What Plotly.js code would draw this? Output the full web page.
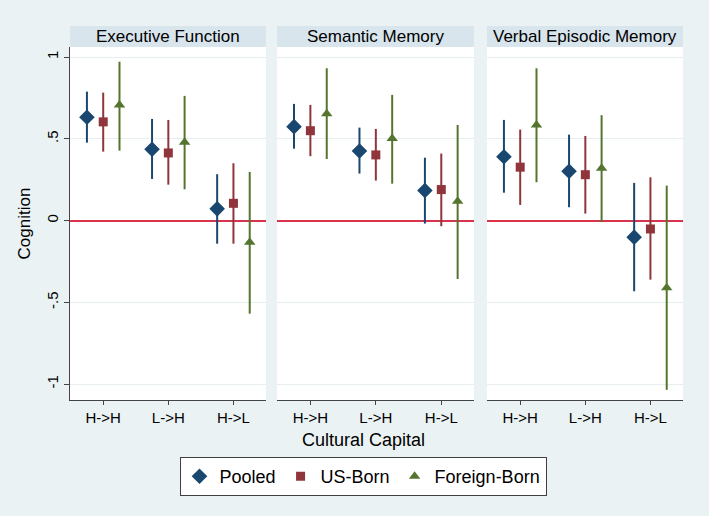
<!DOCTYPE html>
<html>
<head>
<meta charset="utf-8">
<script src="https://cdn.plot.ly/plotly-3.0.1.min.js"></script>
<style>html,body{margin:0;padding:0;background:#eaf2f3;}#chart{width:709px;height:516px;}</style>
</head>
<body>
<div id="chart"></div>
<script>
var panels = ["Executive Function", "Semantic Memory", "Verbal Episodic Memory"];
var categories = ["H->H", "L->H", "H->L"];
var seriesNames = ["Pooled", "US-Born", "Foreign-Born"];
var yTickVals = [-1, -0.5, 0, 0.5, 1];
var yTickText = ["-1", "-.5", "0", ".5", "1"];

// Estimates per panel [EF, SM, VEM], each over categories
var pooledEst = [[0.632, 0.437, 0.072], [0.575, 0.426, 0.184], [0.391, 0.302, -0.101]];
var pooledLo  = [[0.477, 0.255, -0.141], [0.440, 0.288, -0.018], [0.171, 0.082, -0.432]];
var pooledHi  = [[0.789, 0.622, 0.284], [0.714, 0.569, 0.385], [0.616, 0.526, 0.231]];

var usEst = [[0.604, 0.414, 0.106], [0.550, 0.402, 0.190], [0.327, 0.281, -0.051]];
var usLo  = [[0.422, 0.220, -0.141], [0.394, 0.245, -0.034], [0.096, 0.043, -0.361]];
var usHi  = [[0.783, 0.616, 0.351], [0.708, 0.561, 0.410], [0.557, 0.518, 0.265]];

var fbEst = [[0.708, 0.479, -0.132], [0.653, 0.502, 0.119], [0.585, 0.320, -0.410]];
var fbLo  = [[0.428, 0.192, -0.569], [0.377, 0.226, -0.357], [0.235, -0.008, -1.035]];
var fbHi  = [[0.972, 0.763, 0.298], [0.932, 0.769, 0.585], [0.932, 0.645, 0.214]];

var series = [
  {name: seriesNames[0], est: pooledEst, lo: pooledLo, hi: pooledHi, color: "#1a476f", symbol: "diamond", size: 12, offset: -0.25},
  {name: seriesNames[1], est: usEst, lo: usLo, hi: usHi, color: "#90353b", symbol: "square", size: 9, offset: 0},
  {name: seriesNames[2], est: fbEst, lo: fbLo, hi: fbHi, color: "#55752f", symbol: "triangle-up", size: 10, offset: 0.25}
];

var traces = [];
for (var p = 0; p < panels.length; p++) {
  var ax = p === 0 ? "" : String(p + 1);
  series.forEach(function (s) {
    var xs = categories.map(function (c, i) { return i + 1 + s.offset; });
    var est = s.est[p];
    traces.push({
      type: "scatter", mode: "markers",
      x: xs, y: est, name: s.name,
      xaxis: "x" + ax, yaxis: "y" + ax,
      legendgroup: s.name, showlegend: p === 0,
      marker: {symbol: s.symbol, size: s.size, color: s.color},
      error_y: {
        type: "data", symmetric: false,
        array: est.map(function (v, i) { return s.hi[p][i] - v; }),
        arrayminus: est.map(function (v, i) { return v - s.lo[p][i]; }),
        thickness: 2, width: 0, color: s.color
      },
      hoverinfo: "x+y"
    });
  });
}

var font = {family: "Liberation Sans, Arial, sans-serif", color: "#000"};
var W = 709, H = 516, ml = 70, mr = 26, mt = 47, mb = 116;
var pw = W - ml - mr, ph = H - mt - mb;
var pix = [[70, 266], [277, 474], [487, 683]];
var domains = pix.map(function (d) { return [(d[0] - ml) / pw, (d[1] - ml) / pw]; });

var layout = {
  width: W, height: H,
  margin: {l: ml, r: mr, t: mt, b: mb, pad: 0},
  paper_bgcolor: "#eaf2f3", plot_bgcolor: "#ffffff",
  font: font,
  showlegend: true,
  legend: {
    orientation: "h", x: (363 - ml) / pw, xanchor: "center",
    y: (ph - (457 - mt)) / ph, yanchor: "top",
    bgcolor: "#ffffff", bordercolor: "#404040", borderwidth: 1,
    font: {family: font.family, size: 18, color: "#000"},
    itemclick: false
  },
  shapes: [], annotations: []
};

for (var p = 0; p < panels.length; p++) {
  var ax = p === 0 ? "" : String(p + 1);
  layout["xaxis" + ax] = {
    domain: domains[p], range: [0.49, 3.5], anchor: "y" + ax,
    tickvals: [1, 2, 3], ticktext: categories,
    ticks: "outside", ticklen: 4, tickcolor: "#444", tickwidth: 1,
    showline: true, linecolor: "#444", linewidth: 1,
    showgrid: false, zeroline: false,
    tickfont: {family: font.family, size: 15, color: "#000"}
  };
  layout["yaxis" + ax] = {
    range: [-1.097, 1.062], anchor: "x" + ax,
    tickvals: yTickVals, ticktext: yTickText,
    showgrid: true, gridcolor: "#e6eef0", gridwidth: 1,
    zeroline: true, zerolinecolor: "#d9344c", zerolinewidth: 1.8,
    showline: p === 0, linecolor: "#444", linewidth: 1,
    ticks: p === 0 ? "outside" : "", ticklen: 5, tickcolor: "#444",
    showticklabels: p === 0, tickangle: -90,
    tickfont: {family: font.family, size: 15, color: "#000"}
  };
  if (p > 0) layout["yaxis" + ax].matches = "y";
  layout.shapes.push({
    type: "rect", xref: "x" + ax + " domain", yref: "paper",
    x0: 0, x1: 1, y0: 1, y1: 1 + 21 / ph,
    fillcolor: "#d9e5ec", line: {width: 0}
  });
  layout.annotations.push({
    text: panels[p], xref: "x" + ax + " domain", yref: "paper",
    x: 0.5, y: 1 + 10.5 / ph, xanchor: "center", yanchor: "middle",
    showarrow: false, font: {family: font.family, size: 17, color: "#000"}
  });
}
layout.yaxis.title = {text: "Cognition", font: {family: font.family, size: 17, color: "#000"}, standoff: 9};
layout.annotations.push({
  text: "Cultural Capital", xref: "paper", yref: "paper",
  x: (363 - ml) / pw, y: (ph - (440 - mt)) / ph, xanchor: "center", yanchor: "middle",
  showarrow: false, font: {family: font.family, size: 18, color: "#000"}
});

Plotly.newPlot("chart", traces, layout, {staticPlot: true, displayModeBar: false});
</script>
</body>
</html>
